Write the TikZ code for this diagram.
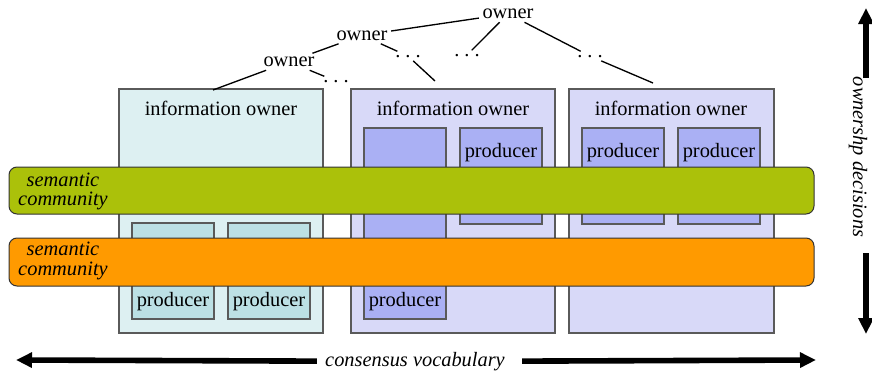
\documentclass[tikz,border=0pt]{standalone}
\usepackage{fontspec}
\setmainfont{Liberation Serif}
\usetikzlibrary{arrows.meta,fit}
\definecolor{cyanbg}{HTML}{DDF0F2}
\definecolor{cyanin}{HTML}{BCE0E4}
\definecolor{lavbg}{HTML}{D8D9F8}
\definecolor{lavin}{HTML}{AAB0F4}
\definecolor{bandgreen}{HTML}{ABC10A}
\definecolor{bandorange}{HTML}{FF9A00}
\definecolor{boxline}{HTML}{5A5A5A}
\begin{document}
\begin{tikzpicture}[x=0.75pt,y=-0.75pt,
  font=\fontsize{15.3}{15.3}\selectfont,
  ownbox/.style={draw=boxline,line width=0.9pt,inner sep=0pt},
  prodbox/.style={draw=boxline,line width=0.9pt,inner sep=0pt},
  band/.style={draw=black!80,line width=0.75pt,rounded corners=6pt,inner sep=0pt},
  lbl/.style={inner sep=0pt,anchor=base},
  tree/.style={inner sep=2.5pt},
  tline/.style={line width=1pt},
  bigarrow/.style={line width=4.2pt,-{Triangle[length=12pt,width=11pt]}},
  bandtxt/.style={align=center,font=\fontsize{15.3}{14.6}\selectfont\itshape,inner sep=0pt}
]
\useasboundingbox (0,0) rectangle (872,375);

% information owner boxes
\node[ownbox,fill=cyanbg,fit={(119,89) (323,333)}] (io1) {};
\node[ownbox,fill=lavbg,fit={(351,89) (555,333)}] (io2) {};
\node[ownbox,fill=lavbg,fit={(569,89) (774,333)}] (io3) {};
\node[lbl] (io1t) at (221,115) {information owner};
\node[lbl] (io2t) at (453,115) {information owner};
\node[lbl] (io3t) at (671,115) {information owner};

% producers
\node[prodbox,fill=cyanin,fit={(132,223) (214,319)}] (p1) {};
\node[prodbox,fill=cyanin,fit={(228,223) (310,319)}] (p2) {};
\node[prodbox,fill=lavin,fit={(364,128) (446,319)}] (p3) {};
\node[prodbox,fill=lavin,fit={(460,128) (542,224)}] (p4) {};
\node[prodbox,fill=lavin,fit={(582,128) (664,224)}] (p5) {};
\node[prodbox,fill=lavin,fit={(678,128) (760,224)}] (p6) {};
\node[lbl] (p1t) at (173,306.5) {producer};
\node[lbl] (p2t) at (269,306.5) {producer};
\node[lbl] (p3t) at (405,306.5) {producer};
\node[lbl] (p4t) at (501,157.5) {producer};
\node[lbl] (p5t) at (623,157.5) {producer};
\node[lbl] (p6t) at (719,157.5) {producer};

% semantic community bands
\node[band,fill=bandgreen,fit={(9,167) (814,214)}] (sc1) {};
\node[band,fill=bandorange,fit={(9,238) (814,286)}] (sc2) {};
\node[bandtxt] (sc1t) at (63,191.5) {semantic\\community};
\node[bandtxt] (sc2t) at (63,261) {semantic\\community};

% ownership tree
\node[tree,anchor=base] (ow1) at (508,18.5) {owner};
\node[tree,anchor=base] (ow2) at (362,40) {owner};
\node[tree,anchor=base] (ow3) at (289,66.5) {owner};
\node[tree,anchor=base] (d1) at (336,82) {.\ .\ .};
\node[tree,anchor=base] (d2) at (408,57) {.\ .\ .};
\node[tree,anchor=base] (d3) at (467,56) {.\ .\ .};
\node[tree,anchor=base] (d4) at (590,57) {.\ .\ .};
\coordinate (c1) at (213,90);
\coordinate (c2) at (435,81);
\coordinate (c3) at (653,83);
\draw[tline] (ow1) -- (ow2);
\draw[tline] (ow1) -- (d3);
\draw[tline] (ow1) -- (d4);
\draw[tline] (d4) -- (c3);
\draw[tline] (ow2) -- (ow3);
\draw[tline] (ow2) -- (d2);
\draw[tline] (d2) -- (c2);
\draw[tline] (ow3) -- (c1);
\draw[tline] (ow3) -- (d1);

% consensus vocabulary
\node[inner sep=0pt,anchor=base,font=\fontsize{15.3}{15.3}\selectfont\itshape] (cv) at (415,366) {consensus vocabulary};
\coordinate (cvl) at (16,360);
\coordinate (cvr) at (816,360);
\draw[bigarrow] (cv.west) ++(-8,0) coordinate (cva) (cva) -- (cvl);
\draw[bigarrow] (cv.east) ++(17,0) coordinate (cvb) (cvb) -- (cvr);

% ownership decisions
\node[inner sep=0pt,rotate=-90,font=\fontsize{15.3}{15.3}\selectfont\itshape] (od) at (858,157) {ownershp decisions};
\coordinate (odt) at (866,8);
\coordinate (odb) at (866,334);
\draw[bigarrow] (866,78) coordinate (oda) (oda) -- (odt);
\draw[bigarrow] (866,253) coordinate (odc) (odc) -- (odb);
\end{tikzpicture}
\end{document}
